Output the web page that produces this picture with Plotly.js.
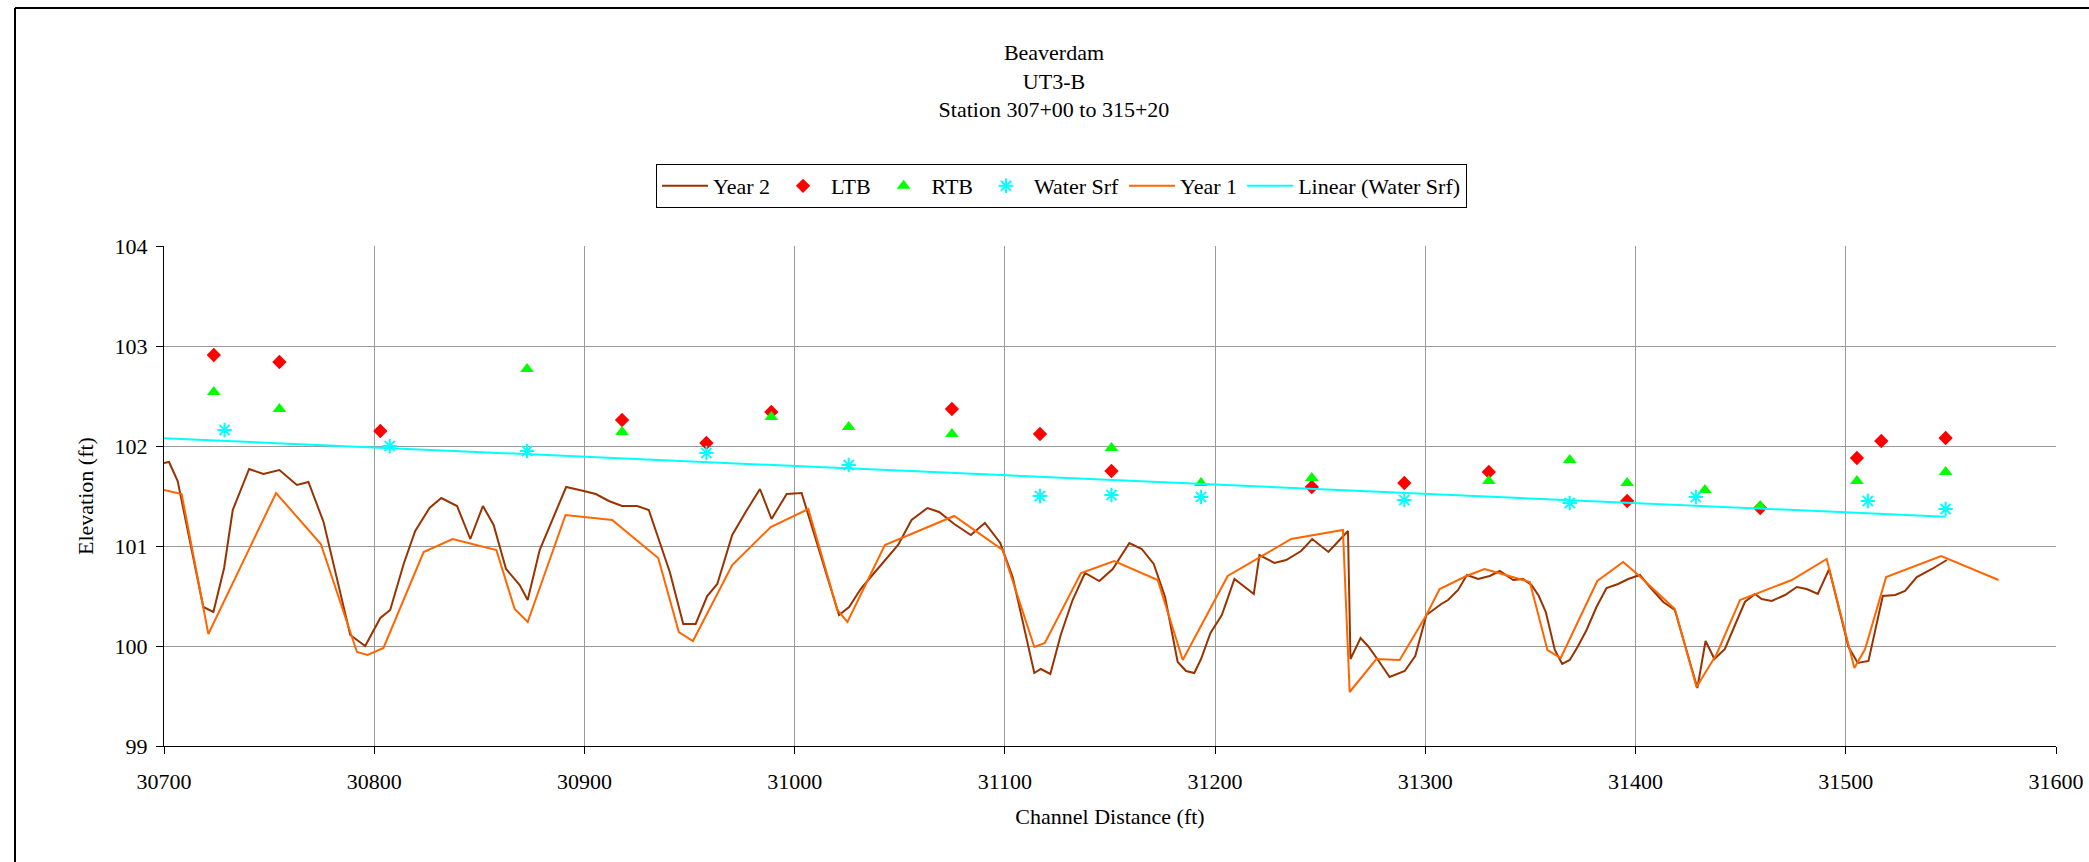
<!DOCTYPE html>
<html>
<head>
<meta charset="utf-8">
<script src="https://cdn.plot.ly/plotly-3.0.1.min.js"></script>
<style>
  html, body { margin: 0; padding: 0; background: #fff; }
  #chart { width: 2089px; height: 862px; }
</style>
</head>
<body>
<div id="chart"></div>
<script>
// ---- Data ----
const year2X = [30698, 30702.4, 30706.5, 30718.7, 30723.5, 30728.6, 30732.7, 30740.5, 30747.3, 30754.9,
  30763.2, 30768.7, 30775.9, 30788.6, 30795.7, 30802.9, 30807.6, 30814.0, 30819.5, 30826.3,
  30831.9, 30839.4, 30845.7, 30851.7, 30856.8, 30862.7, 30869.2, 30873.0, 30878.7, 30891.3,
  30899.7, 30905.4, 30911.6, 30917.9, 30925.1, 30930.6, 30940.6, 30947.0, 30952.9, 30958.4,
  30963.2, 30970.3, 30976.7, 30983.5, 30989.0, 30996.2, 31003.3, 31021.1, 31025.9, 31031.4,
  31036.2, 31042.5, 31049.2, 31055.6, 31063.2, 31068.7, 31075.9, 31083.8, 31090.5, 31097.8,
  31103.7, 31114.0, 31117.1, 31121.6, 31126.7, 31132.2, 31138.1, 31144.9, 31151.3, 31159.2,
  31165.1, 31170.8, 31176.2, 31182.2, 31186.2, 31190.1, 31193.3, 31197.8, 31203.2, 31209.2,
  31218.4, 31221.1, 31228.2, 31233.8, 31240.9, 31246.2, 31253.9, 31263.2, 31264.4, 31269.2,
  31272.7, 31277.5, 31283.0, 31290.2, 31295.2, 31300.5, 31307.6, 31310.8, 31315.6, 31319.8,
  31325.1, 31330.6, 31335.4, 31341.8, 31346.5, 31350.5, 31354.0, 31357.3, 31361.6, 31365.1,
  31368.7, 31372.4, 31376.7, 31381.4, 31386.2, 31391.7, 31396.5, 31402.1, 31406.8, 31413.2,
  31418.7, 31429.4, 31433.3, 31437.5, 31442.5, 31447.3, 31452.0, 31456.8, 31460.0, 31464.8,
  31471.1, 31476.7, 31481.4, 31486.7, 31492.1, 31501.3, 31505.7, 31510.8, 31517.6, 31523.5,
  31528.2, 31533.8, 31541.0, 31548.1];
const year2Y = [101.82, 101.84, 101.65, 100.39, 100.34, 100.78, 101.36, 101.77, 101.72, 101.76,
  101.61, 101.64, 101.24, 100.11, 100.00, 100.28, 100.36, 100.82, 101.15, 101.38,
  101.48, 101.40, 101.07, 101.40, 101.21, 100.77, 100.61, 100.46, 100.96, 101.59,
  101.55, 101.52, 101.45, 101.40, 101.40, 101.36, 100.74, 100.22, 100.22, 100.50,
  100.62, 101.11, 101.34, 101.57, 101.27, 101.52, 101.53, 100.31, 100.39, 100.57,
  100.69, 100.84, 101.01, 101.26, 101.38, 101.34, 101.22, 101.11, 101.23, 101.03,
  100.69, 99.73, 99.77, 99.72, 100.12, 100.46, 100.73, 100.65, 100.77, 101.03,
  100.97, 100.82, 100.49, 99.84, 99.75, 99.73, 99.87, 100.13, 100.31, 100.67,
  100.52, 100.91, 100.83, 100.86, 100.95, 101.07, 100.94, 101.15, 99.87, 100.08,
  100.00, 99.86, 99.69, 99.75, 99.90, 100.31, 100.42, 100.46, 100.56, 100.71,
  100.67, 100.70, 100.75, 100.66, 100.67, 100.61, 100.50, 100.34, 99.96, 99.82,
  99.86, 99.99, 100.16, 100.39, 100.58, 100.62, 100.67, 100.71, 100.59, 100.44,
  100.36, 99.58, 100.05, 99.87, 99.97, 100.21, 100.44, 100.52, 100.47, 100.45,
  100.51, 100.59, 100.57, 100.52, 100.77, 99.99, 99.83, 99.85, 100.50, 100.51,
  100.55, 100.69, 100.77, 100.86];

const year1X = [30700, 30708.4, 30721.1, 30753.3, 30774.6, 30791.8, 30796.8, 30804.4, 30823.5, 30837.3,
  30858.1, 30866.8, 30873.0, 30891.0, 30913.2, 30935.1, 30944.9, 30951.6, 30970.3, 30988.6,
  31006.5, 31020.3, 31025.1, 31042.9, 31075.9, 31098.9, 31114.0, 31119.0, 31136.2, 31152.0,
  31172.7, 31184.6, 31206.0, 31236.2, 31260.8, 31264.0, 31276.7, 31287.8, 31300.5, 31306.8,
  31319.5, 31328.2, 31349.7, 31358.1, 31364.4, 31381.8, 31394.1, 31401.3, 31418.7, 31429.0,
  31438.6, 31449.7, 31474.3, 31490.9, 31504.1, 31509.2, 31519.2, 31545.4, 31572.7];
const year1Y = [101.56, 101.52, 100.12, 101.53, 101.02, 99.94, 99.91, 99.98, 100.94, 101.07,
  100.96, 100.37, 100.24, 101.31, 101.26, 100.88, 100.14, 100.05, 100.81, 101.19,
  101.37, 100.36, 100.24, 101.01, 101.30, 100.96, 99.99, 100.03, 100.73, 100.85,
  100.66, 99.86, 100.70, 101.07, 101.16, 99.54, 99.87, 99.86, 100.31, 100.57,
  100.70, 100.77, 100.64, 99.96, 99.88, 100.65, 100.84, 100.71, 100.37, 99.59,
  99.92, 100.46, 100.66, 100.87, 99.78, 99.97, 100.69, 100.90, 100.66];

const ltbX = [30723.7, 30754.9, 30802.9, 30917.9, 30958.0, 30988.9, 31074.8, 31116.7, 31150.7,
  31246.0, 31290.0, 31330.2, 31396.0, 31459.3, 31505.3, 31516.9, 31547.5];
const ltbY = [102.91, 102.84, 102.15, 102.26, 102.03, 102.34, 102.37, 102.12, 101.75,
  101.59, 101.63, 101.74, 101.45, 101.38, 101.88, 102.05, 102.08];

const rtbX = [30723.7, 30754.9, 30872.7, 30917.9, 30988.9, 31025.7, 31074.8, 31150.7, 31193.3,
  31246.0, 31330.2, 31368.7, 31396.0, 31433.0, 31459.3, 31505.3, 31547.5];
const rtbY = [102.54, 102.37, 102.77, 102.14, 102.29, 102.19, 102.12, 101.98, 101.63,
  101.68, 101.65, 101.86, 101.63, 101.56, 101.40, 101.65, 101.74];

const waterX = [30728.8, 30807.4, 30872.7, 30958.0, 31025.7, 31116.7, 31150.7, 31193.3,
  31290.0, 31368.7, 31428.7, 31510.5, 31547.5];
const waterY = [102.16, 102.00, 101.95, 101.93, 101.81, 101.50, 101.51, 101.49,
  101.46, 101.43, 101.49, 101.45, 101.37];

const trendStart = 30700; // trendline drawn back to the axis start

const xTicks = [30700, 30800, 30900, 31000, 31100, 31200, 31300, 31400, 31500, 31600];
const yTicks = [99, 100, 101, 102, 103, 104];

// ---- Linear trend of Water Srf (least squares) ----
function linFit(xs, ys) {
  const n = xs.length;
  const mx = xs.reduce((a, b) => a + b, 0) / n;
  const my = ys.reduce((a, b) => a + b, 0) / n;
  let sxy = 0, sxx = 0;
  for (let i = 0; i < n; i++) { sxy += (xs[i] - mx) * (ys[i] - my); sxx += (xs[i] - mx) ** 2; }
  const m = sxy / sxx;
  return { m: m, b: my - m * mx };
}
const fit = linFit(waterX, waterY);
const trendX = [trendStart, Math.max(...waterX)];
const trendY = trendX.map(x => fit.m * x + fit.b);

const FONT = "'Liberation Serif', 'Times New Roman', Times, serif";
const FS = 22;

const traces = [
  { name: 'Year 2', x: year2X, y: year2Y, type: 'scatter', mode: 'lines',
    line: { color: '#993300', width: 2 } },
  { name: 'LTB', x: ltbX, y: ltbY, type: 'scatter', mode: 'markers',
    marker: { symbol: 'diamond', color: '#FF0000', size: 11 } },
  { name: 'RTB', x: rtbX, y: rtbY, type: 'scatter', mode: 'markers',
    marker: { symbol: 'triangle-up', color: '#00FF00', size: 12 } },
  { name: 'Water Srf', x: waterX, y: waterY, type: 'scatter', mode: 'markers',
    marker: { symbol: 'asterisk-open', color: '#00FFFF', size: 12, line: { color: '#00FFFF', width: 2 } } },
  { name: 'Year 1', x: year1X, y: year1Y, type: 'scatter', mode: 'lines',
    line: { color: '#FF6600', width: 2 } },
  { name: 'Linear (Water Srf)', x: trendX, y: trendY, type: 'scatter', mode: 'lines',
    line: { color: '#00FFFF', width: 2 } }
];

// plot area: x 164..2056, y 245.7..745.7 px
const W = 2089, H = 862;
const mL = 164, mR = W - 2056, mT = 246, mB = H - 746;
const pw = W - mL - mR, ph = H - mT - mB;
const px = v => (v - mL) / pw;
const py = v => (H - mB - v) / ph;

const layout = {
  width: W, height: H,
  paper_bgcolor: '#ffffff', plot_bgcolor: '#ffffff',
  margin: { l: mL, r: mR, t: mT, b: mB, pad: 0 },
  font: { family: FONT, size: FS, color: '#000000' },
  title: {
    text: 'Beaverdam<br>UT3-B<br>Station 307+00 to 315+20',
    font: { family: FONT, size: FS, color: '#000000' },
    xref: 'container', x: 1054 / W, xanchor: 'center',
    yref: 'container', y: 1 - 60 / H, yanchor: 'top'
  },
  showlegend: true,
  legend: {
    orientation: 'h',
    xref: 'container', yref: 'container',
    x: 656 / W, xanchor: 'left',
    y: 1 - 164 / H, yanchor: 'top',
    bordercolor: '#000000', borderwidth: 1, bgcolor: '#ffffff',
    font: { family: FONT, size: FS, color: '#000000' },
    itemwidth: 46,
    traceorder: 'normal'
  },
  xaxis: {
    range: [30700, 31600],
    tickmode: 'array', tickvals: xTicks, ticktext: xTicks.map(String),
    showgrid: true, gridcolor: '#9a9a9a', gridwidth: 1,
    showline: true, linecolor: '#000000', linewidth: 1, mirror: false,
    ticks: 'outside', ticklen: 7, tickcolor: '#000000',
    ticklabelstandoff: 9,
    zeroline: false,
    tickfont: { family: FONT, size: FS, color: '#000000' },
    title: { text: 'Channel Distance (ft)', font: { family: FONT, size: FS, color: '#000000' }, standoff: 15 }
  },
  yaxis: {
    range: [99, 104],
    tickmode: 'array', tickvals: yTicks, ticktext: yTicks.map(String),
    showgrid: true, gridcolor: '#9a9a9a', gridwidth: 1,
    showline: true, linecolor: '#000000', linewidth: 1,
    ticks: 'outside', ticklen: 7, tickcolor: '#000000',
    ticklabelstandoff: 4,
    zeroline: false,
    tickfont: { family: FONT, size: FS, color: '#000000' },
    title: { text: 'Elevation (ft)', font: { family: FONT, size: FS, color: '#000000' }, standoff: 14 }
  },
  shapes: [
    { type: 'line', xref: 'paper', yref: 'paper', x0: px(15), x1: px(2100), y0: py(8), y1: py(8),
      line: { color: '#000000', width: 2 } },
    { type: 'line', xref: 'paper', yref: 'paper', x0: px(15), x1: px(15), y0: py(8), y1: py(880),
      line: { color: '#000000', width: 2 } }
  ]
};

Plotly.newPlot('chart', traces, layout, { displayModeBar: false, staticPlot: true });
</script>
</body>
</html>
